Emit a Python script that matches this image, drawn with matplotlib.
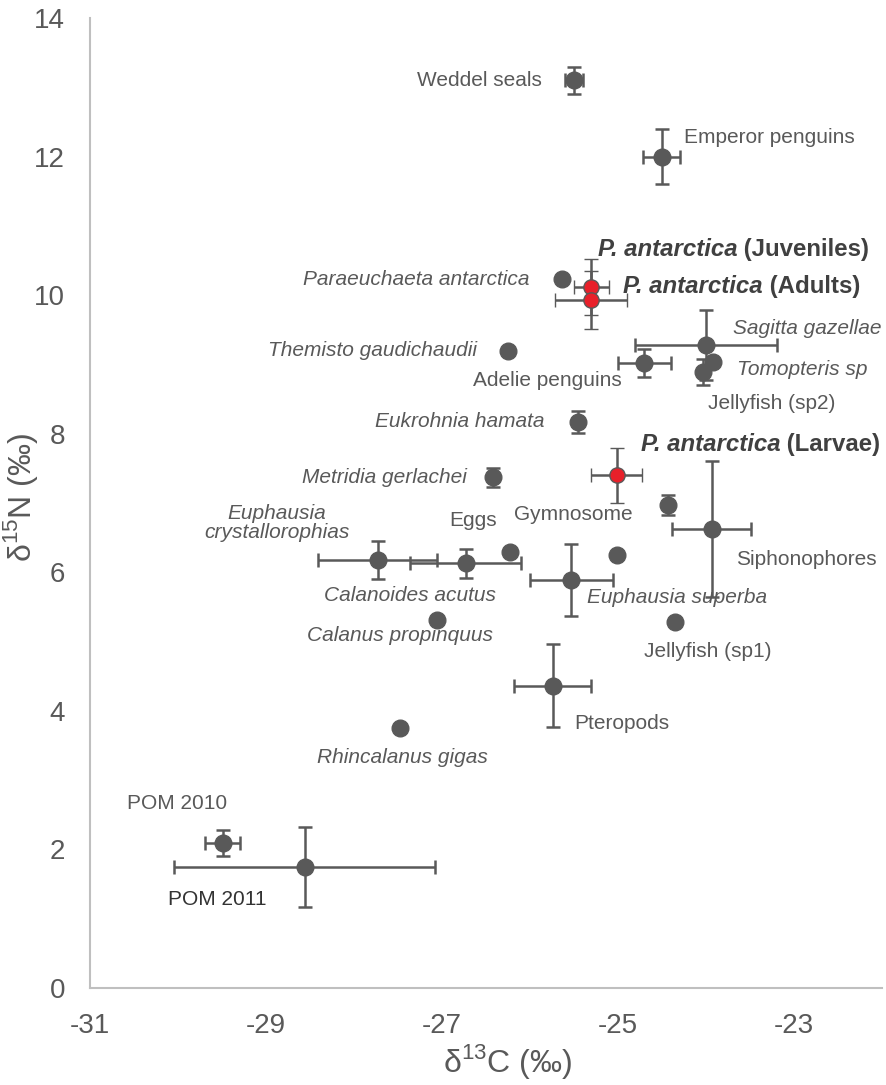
import numpy as np
import matplotlib
matplotlib.use('Agg')
import matplotlib.pyplot as plt

plt.rcParams['font.family'] = ['Liberation Sans', 'DejaVu Sans']
plt.rcParams['mathtext.fontset'] = 'custom'
plt.rcParams['mathtext.rm'] = 'Liberation Sans'
plt.rcParams['axes.unicode_minus'] = False

# points with error bars: d13C, d15N, sd(C), sd(N)
err_x = [-25.5, -24.5, -24.0, -24.03, -24.7, -25.45, -26.42, -24.43,
         -23.93, -25.53, -26.73, -27.73, -25.74, -29.49, -28.56]
err_y = [13.1, 12.0, 9.28, 8.89, 9.02, 8.17, 7.37, 6.97,
         6.62, 5.89, 6.13, 6.18, 4.36, 2.09, 1.75]
err_sx = [0.1, 0.21, 0.81, 0.0, 0.3, 0.0, 0.0, 0.0,
          0.45, 0.47, 0.63, 0.68, 0.44, 0.2, 1.48]
err_sy = [0.2, 0.4, 0.5, 0.19, 0.2, 0.16, 0.14, 0.15,
          0.98, 0.52, 0.21, 0.27, 0.6, 0.19, 0.58]

# points without error bars
pt_x = [-25.63, -26.25, -23.92, -26.23, -25.01, -27.05, -27.48, -24.35]
pt_y = [10.23, 9.2, 9.03, 6.29, 6.25, 5.31, 3.75, 5.28]

# P. antarctica (juveniles, adults, larvae)
pa_x = [-25.3, -25.3, -25.01]
pa_y = [10.12, 9.93, 7.4]
pa_sx = [0.2, 0.41, 0.29]
pa_sy = [0.4, 0.42, 0.4]

# labels: text, x, y, ha, style
labels = [
    ('Weddel seals', -25.86, 13.1, 'right', 'normal'),
    ('Emperor penguins', -24.25, 12.27, 'left', 'normal'),
    ('Paraeuchaeta antarctica', -26.0, 10.23, 'right', 'italic'),
    ('Themisto gaudichaudii', -26.6, 9.2, 'right', 'italic'),
    ('Sagitta gazellae', -23.69, 9.52, 'left', 'italic'),
    ('Tomopteris sp', -23.65, 8.92, 'left', 'italic'),
    ('Adelie penguins', -25.8, 8.77, 'center', 'normal'),
    ('Jellyfish (sp2)', -23.97, 8.44, 'left', 'normal'),
    ('Eukrohnia hamata', -25.83, 8.17, 'right', 'italic'),
    ('Metridia gerlachei', -26.72, 7.37, 'right', 'italic'),
    ('Gymnosome', -25.51, 6.83, 'center', 'normal'),
    ('Eggs', -26.65, 6.75, 'center', 'normal'),
    ('Euphausia\ncrystallorophias', -28.88, 6.71, 'center', 'italic'),
    ('Siphonophores', -23.66, 6.19, 'left', 'normal'),
    ('Calanoides acutus', -27.36, 5.67, 'center', 'italic'),
    ('Euphausia superba', -24.33, 5.64, 'center', 'italic'),
    ('Calanus propinquus', -27.48, 5.09, 'center', 'italic'),
    ('Jellyfish (sp1)', -23.98, 4.85, 'center', 'normal'),
    ('Pteropods', -25.5, 3.82, 'left', 'normal'),
    ('Rhincalanus gigas', -27.45, 3.32, 'center', 'italic'),
    ('POM 2010', -30.01, 2.67, 'center', 'normal'),
]

# bold P. antarctica labels: suffix, x, y
pa_labels = [(' (Juveniles)', -25.23, 10.66),
             (' (Adults)', -24.94, 10.13),
             (' (Larvae)', -24.74, 7.84)]

grey = '#595959'

fig = plt.figure(figsize=(8.87, 10.85), dpi=100)
ax = fig.add_axes([0.1015, 0.0894, 0.8925, 0.894])

ax.errorbar(err_x, err_y, xerr=err_sx, yerr=err_sy, fmt='o', color=grey,
            ms=12, elinewidth=1.8, capsize=5, capthick=1.8, zorder=3)
ax.plot(pt_x, pt_y, 'o', color=grey, ms=12, zorder=3)
ax.errorbar(pa_x, pa_y, xerr=pa_sx, yerr=pa_sy, fmt='o', color=grey,
            mfc='#e8202a', mec=grey, mew=1.0, ms=11, elinewidth=1.8,
            capsize=5, capthick=1.8, zorder=4)

for txt, x, y, ha, st in labels:
    ax.text(x, y, txt, ha=ha, va='center', fontsize=15, style=st,
            color=grey, linespacing=1.0)

ax.text(-29.55, 1.28, 'POM 2011', ha='center', va='center', fontsize=15,
        color='#333333')

for suffix, x, y in pa_labels:
    t = ax.text(x, y, 'P. antarctica', ha='left', va='center', fontsize=17.3,
                style='italic', weight='bold', color='#404040')
    ax.annotate(suffix, xy=(1, 0.5), xycoords=t, ha='left', va='center',
                fontsize=17.3, weight='bold', color='#404040')

ax.set_xlim(-31, -22)
ax.set_ylim(0, 14)
ax.set_xticks([-31, -29, -27, -25, -23])
ax.set_yticks(np.arange(0, 15, 2))
ax.tick_params(axis='x', length=0, labelsize=20, labelcolor=grey, pad=18)
ax.tick_params(axis='y', length=0, labelsize=20, labelcolor=grey, pad=18)
for s in ['top', 'right']:
    ax.spines[s].set_visible(False)
for s in ['left', 'bottom']:
    ax.spines[s].set_color('#bfbfbf')
    ax.spines[s].set_linewidth(1.5)

ax.set_xlabel(r'δ$^{13}$C (‰)', fontsize=23, color=grey)
ax.set_ylabel(r'δ$^{15}$N (‰)', fontsize=23, color=grey)
ax.xaxis.set_label_coords(0.528, -0.056)
ax.yaxis.set_label_coords(-0.063, 0.506)

fig.savefig('out.png', dpi=100)
